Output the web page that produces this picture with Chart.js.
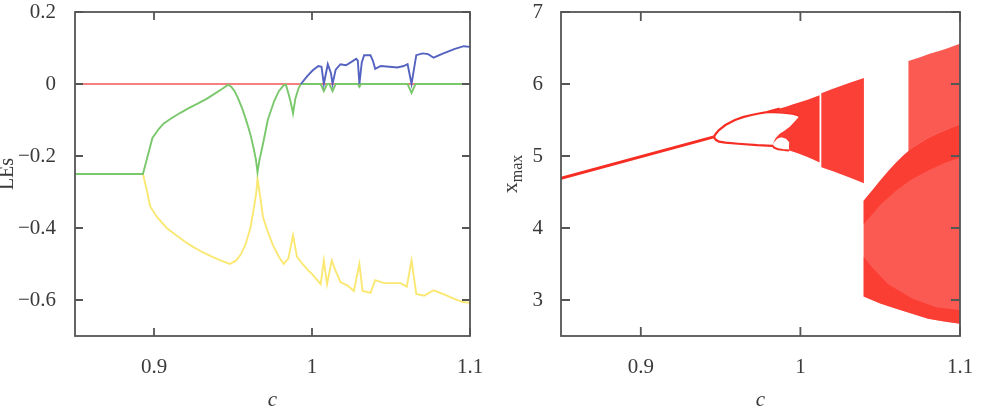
<!DOCTYPE html>
<html>
<head>
<meta charset="utf-8">
<script src="https://cdn.jsdelivr.net/npm/chart.js@4.4.1/dist/chart.umd.min.js"></script>
<style>
  html, body { margin: 0; padding: 0; background: #fff; }
  #wrap { position: relative; width: 986px; height: 411px; overflow: hidden; }
  #leftBox { position: absolute; left: 0; top: 0; width: 490px; height: 411px; }
  #rightBox { position: absolute; left: 490px; top: 0; width: 496px; height: 411px; }
</style>
</head>
<body>
<div id="wrap">
  <div id="leftBox"><canvas id="leChart" width="490" height="411"></canvas></div>
  <div id="rightBox"><canvas id="xmChart" width="496" height="411"></canvas></div>
</div>
<script>
// ---------------- shared axis data ----------------
const cTicks = [0.9, 1, 1.1];
const cTickLabels = ['0.9', '1', '1.1'];

// ---------------- left panel: Lyapunov exponents ----------------
const leTicks = [-0.6, -0.4, -0.2, 0, 0.2];
const leTickLabels = ['\u22120.6', '\u22120.4', '\u22120.2', '0', '0.2'];

// LE1 (blue, largest)
const le1C = [0.993, 0.997, 1.0005, 1.004, 1.006, 1.0075, 1.010, 1.012, 1.013, 1.015, 1.018, 1.0215, 1.0245, 1.028, 1.029, 1.030, 1.0315, 1.033, 1.037, 1.0385, 1.040, 1.0435, 1.049, 1.054, 1.058, 1.0605, 1.063, 1.066, 1.070, 1.0735, 1.077, 1.082, 1.086, 1.090, 1.096, 1.1];
const le1 = [0, 0.022, 0.038, 0.05, 0.048, 0, 0.055, 0.03, 0, 0.04, 0.055, 0.052, 0.06, 0.07, 0.065, 0, 0.06, 0.08, 0.08, 0.065, 0.042, 0.05, 0.048, 0.046, 0.05, 0.055, 0, 0.08, 0.085, 0.083, 0.073, 0.083, 0.09, 0.097, 0.105, 0.103];

// LE2 (red, zero exponent)
const le2C = [0.85, 1.1];
const le2 = [0, 0];

// LE3 (green)
const le3C = [0.85, 0.893, 0.8957, 0.899, 0.903, 0.906, 0.911, 0.9167, 0.922, 0.927, 0.933, 0.938, 0.943, 0.947, 0.949, 0.951, 0.953, 0.956, 0.959, 0.961, 0.963, 0.9645, 0.9655, 0.9668, 0.9688, 0.972, 0.976, 0.979, 0.982, 0.9835, 0.985, 0.9865, 0.988, 0.9895, 0.9915, 0.993, 1.0055, 1.0075, 1.0095, 1.011, 1.013, 1.015, 1.029, 1.030, 1.031, 1.0605, 1.063, 1.0655, 1.1];
const le3 = [-0.25, -0.25, -0.205, -0.15, -0.125, -0.11, -0.095, -0.08, -0.067, -0.056, -0.042, -0.028, -0.014, -0.002, -0.008, -0.02, -0.038, -0.07, -0.11, -0.14, -0.177, -0.21, -0.245, -0.21, -0.17, -0.10, -0.048, -0.02, -0.004, -0.002, -0.025, -0.05, -0.082, -0.04, -0.012, 0, 0, -0.02, 0, 0, -0.02, 0, 0, -0.008, 0, 0, -0.025, 0, 0];

// LE4 (yellow, most negative)
const le4C = [0.85, 0.893, 0.8957, 0.8976, 0.902, 0.908, 0.914, 0.919, 0.925, 0.931, 0.937, 0.942, 0.948, 0.952, 0.955, 0.958, 0.961, 0.963, 0.9648, 0.9655, 0.9668, 0.969, 0.972, 0.975, 0.979, 0.982, 0.985, 0.988, 0.9905, 0.994, 0.997, 1.0005, 1.0055, 1.0075, 1.0095, 1.0125, 1.015, 1.018, 1.0225, 1.0265, 1.030, 1.032, 1.037, 1.040, 1.0457, 1.056, 1.060, 1.063, 1.066, 1.071, 1.077, 1.084, 1.090, 1.095, 1.1];
const le4 = [-0.25, -0.25, -0.30, -0.34, -0.37, -0.40, -0.42, -0.436, -0.453, -0.468, -0.48, -0.49, -0.50, -0.49, -0.473, -0.445, -0.40, -0.35, -0.30, -0.262, -0.30, -0.37, -0.41, -0.445, -0.48, -0.50, -0.485, -0.42, -0.48, -0.50, -0.515, -0.53, -0.556, -0.49, -0.556, -0.49, -0.52, -0.55, -0.56, -0.575, -0.50, -0.575, -0.58, -0.545, -0.553, -0.553, -0.563, -0.49, -0.583, -0.588, -0.573, -0.585, -0.597, -0.605, -0.608];

// ---------------- right panel: bifurcation diagram x_max ----------------
const xmTicks = [3, 4, 5, 6, 7];
const xmTickLabels = ['3', '4', '5', '6', '7'];

// periodic branches (lines)
const period1C = [0.85, 0.9458];
const period1 = [4.69, 5.265];
const branchUpC = [0.9458, 0.947, 0.949, 0.953, 0.959, 0.964, 0.9694, 0.974, 0.979, 0.983, 0.987];
const branchUp = [5.265, 5.31, 5.36, 5.43, 5.50, 5.54, 5.57, 5.59, 5.61, 5.635, 5.66];
const innerTopC = [0.979, 0.983, 0.987, 0.991, 0.995, 0.998, 0.9992];
const innerTop = [5.605, 5.604, 5.601, 5.595, 5.583, 5.566, 5.55];
const branchLoC = [0.9458, 0.947, 0.949, 0.953, 0.961, 0.973, 0.9823];
const branchLo = [5.265, 5.225, 5.20, 5.185, 5.17, 5.15, 5.14];
const smallLoopLoC = [0.9823, 0.9835, 0.986, 0.989, 0.991, 0.993];
const smallLoopLo = [5.15, 5.115, 5.095, 5.085, 5.08, 5.075];

// chaotic bands (outlines of the filled point clouds)
const bandAC = [0.979, 0.983, 0.987, 0.991, 0.995, 1.0, 1.005, 1.012, 1.012, 1.008, 1.004, 1.0, 0.996, 0.993, 0.9928, 0.993, 0.991, 0.988, 0.9855, 0.9835, 0.9823, 0.9845, 0.987, 0.990, 0.9935, 0.996, 0.9985, 0.9992, 0.998, 0.995, 0.991, 0.987, 0.983];
const bandA = [5.61, 5.635, 5.66, 5.685, 5.715, 5.75, 5.785, 5.845, 4.91, 4.95, 4.99, 5.025, 5.055, 5.075, 5.12, 5.19, 5.24, 5.26, 5.24, 5.19, 5.15, 5.25, 5.31, 5.35, 5.41, 5.47, 5.53, 5.55, 5.567, 5.585, 5.597, 5.603, 5.605];
const bandBC = [1.0131, 1.02, 1.03, 1.0398, 1.0398, 1.03, 1.02, 1.0131];
const bandB = [5.87, 5.93, 6.01, 6.085, 4.62, 4.71, 4.79, 4.845];
const regionLowC = [1.0396, 1.045, 1.05, 1.055, 1.06, 1.065, 1.07, 1.075, 1.08, 1.09, 1.1, 1.1, 1.09, 1.08, 1.07, 1.06, 1.05, 1.0396];
const regionLow = [4.38, 4.52, 4.66, 4.79, 4.91, 5.02, 5.11, 5.18, 5.25, 5.35, 5.44, 2.67, 2.70, 2.74, 2.81, 2.88, 2.95, 3.05];
const regionUpC = [1.0677, 1.0677, 1.075, 1.081, 1.09, 1.1, 1.1, 1.09, 1.08, 1.075, 1.07];
const regionUp = [5.06, 6.32, 6.37, 6.42, 6.48, 6.56, 5.44, 5.35, 5.25, 5.18, 5.11];
const denseTopC = [1.0396, 1.05, 1.06, 1.07, 1.08, 1.09, 1.1, 1.1, 1.09, 1.08, 1.07, 1.06, 1.05, 1.0396];
const denseTop = [4.38, 4.66, 4.91, 5.11, 5.25, 5.35, 5.44, 4.98, 4.90, 4.80, 4.68, 4.52, 4.32, 4.05];
const denseBotC = [1.0396, 1.0396, 1.045, 1.055, 1.07, 1.085, 1.1, 1.1, 1.09, 1.08, 1.07, 1.06, 1.05];
const denseBot = [3.05, 3.6, 3.45, 3.22, 3.02, 2.9, 2.86, 2.67, 2.70, 2.74, 2.81, 2.88, 2.95];

// ---------------- helpers & styling ----------------
const pts = (cs, vs) => cs.map((c, i) => ({x: c, y: vs[i]}));
const FONT = "'Liberation Serif', 'DejaVu Serif', serif";
const TEXT = '#3a3a3a';

const framePlugin = {
  id: 'frame',
  afterDatasetsDraw(chart, args, opts) {
    const {ctx, chartArea: a, scales} = chart;
    const x = scales.x, y = scales.y;
    ctx.save();
    ctx.strokeStyle = opts.color || '#555';
    ctx.lineWidth = opts.width || 1.8;
    const L = opts.tickLen || 8;
    ctx.beginPath();
    x.ticks.forEach(t => {
      const p = x.getPixelForValue(t.value);
      ctx.moveTo(p, a.bottom); ctx.lineTo(p, a.bottom - L);
      ctx.moveTo(p, a.top); ctx.lineTo(p, a.top + L);
    });
    y.ticks.forEach(t => {
      const p = y.getPixelForValue(t.value);
      ctx.moveTo(a.left, p); ctx.lineTo(a.left + L, p);
      ctx.moveTo(a.right, p); ctx.lineTo(a.right - L, p);
    });
    ctx.stroke();
    ctx.strokeRect(a.left, a.top, a.right - a.left, a.bottom - a.top);
    ctx.restore();
  }
};

function xScale() {
  return {
    type: 'linear', min: 0.85, max: 1.1,
    grid: {display: false}, border: {display: false},
    afterBuildTicks: s => { s.ticks = cTicks.map(v => ({value: v})); },
    afterFit: s => { s.height = 75; s.paddingLeft = 0; s.paddingRight = 0; },
    ticks: {
      autoSkip: false, maxRotation: 0, padding: 11, color: TEXT,
      font: {family: FONT, size: 21},
      callback: (v, i) => cTickLabels[i]
    },
    title: {display: true, text: 'c', color: TEXT, padding: {top: 0, bottom: 0},
      font: {family: FONT, size: 21, style: 'italic', lineHeight: 1.0}}
  };
}

function line(cs, vs, color, w) {
  return {data: pts(cs, vs), showLine: true, borderColor: color, borderWidth: w,
    pointRadius: 0, fill: false, tension: 0};
}
function area(cs, vs, color) {
  return {data: pts(cs, vs), showLine: true, borderColor: 'rgba(0,0,0,0)', borderWidth: 1,
    backgroundColor: color, pointRadius: 0, fill: 'shape', tension: 0};
}

// ---------------- left chart ----------------
new Chart(document.getElementById('leChart'), {
  type: 'scatter',
  data: {
    datasets: [
      line(le1C, le1, 'rgb(84,98,192)', 1.9),
      line(le3C, le3, 'rgb(122,200,108)', 1.9),
      line(le2C, le2, 'rgb(244,128,128)', 1.9),
      line(le4C, le4, 'rgb(250,232,115)', 1.9)
    ]
  },
  options: {
    responsive: false, animation: false, events: [],
    layout: {padding: {top: 12, right: 20, left: 0, bottom: 0}},
    plugins: {legend: {display: false}, tooltip: {enabled: false},
      frame: {color: '#555', width: 1.8, tickLen: 8}},
    scales: {
      x: xScale(),
      y: {
        type: 'linear', min: -0.7, max: 0.2,
        grid: {display: false}, border: {display: false},
        afterBuildTicks: s => { s.ticks = leTicks.map(v => ({value: v})); },
        afterFit: s => { s.width = 75; s.paddingTop = 0; s.paddingBottom = 0; },
        ticks: {autoSkip: false, padding: 11, color: TEXT, font: {family: FONT, size: 21},
          callback: (v, i) => leTickLabels[i]},
        title: {display: true, text: 'LEs', color: TEXT, padding: {top: 0, bottom: 0},
          font: {family: FONT, size: 20, lineHeight: 0.8}}
      }
    }
  },
  plugins: [framePlugin]
});

// ---------------- right chart ----------------
const RED = 'rgb(245,45,35)';
const xmaxTitle = {
  id: 'xmaxTitle',
  afterDraw(chart) {
    const {ctx, chartArea: a} = chart;
    const cy = (a.top + a.bottom) / 2;
    ctx.save();
    ctx.translate(27, cy);
    ctx.rotate(-Math.PI / 2);
    ctx.fillStyle = TEXT;
    ctx.textBaseline = 'alphabetic';
    ctx.textAlign = 'left';
    ctx.font = '22px ' + FONT;
    const w1 = ctx.measureText('x').width;
    ctx.font = '16px ' + FONT;
    const w2 = ctx.measureText('max').width;
    const start = -(w1 + w2) / 2;
    ctx.font = '22px ' + FONT;
    ctx.fillText('x', start, 0);
    ctx.font = '16px ' + FONT;
    ctx.fillText('max', start + w1, 5);
    ctx.restore();
  }
};

new Chart(document.getElementById('xmChart'), {
  type: 'scatter',
  data: {
    datasets: [
      line(period1C, period1, RED, 3),
      line(branchUpC, branchUp, RED, 2.2),
      line(innerTopC, innerTop, RED, 1.5),
      line(branchLoC, branchLo, RED, 2.2),
      line(smallLoopLoC, smallLoopLo, RED, 2),
      area(bandAC, bandA, 'rgba(250,38,28,0.9)'),
      area(bandBC, bandB, 'rgba(250,38,28,0.88)'),
      area(denseTopC, denseTop, 'rgba(250,38,28,0.55)'),
      area(denseBotC, denseBot, 'rgba(250,38,28,0.55)'),
      area(regionLowC, regionLow, 'rgba(250,38,28,0.76)'),
      area(regionUpC, regionUp, 'rgba(250,38,28,0.76)')
    ]
  },
  options: {
    responsive: false, animation: false, events: [],
    layout: {padding: {top: 12, right: 26, left: 0, bottom: 0}},
    plugins: {legend: {display: false}, tooltip: {enabled: false},
      frame: {color: '#555', width: 1.8, tickLen: 9}},
    scales: {
      x: xScale(),
      y: {
        type: 'linear', min: 2.5, max: 7,
        grid: {display: false}, border: {display: false},
        afterBuildTicks: s => { s.ticks = xmTicks.map(v => ({value: v})); },
        afterFit: s => { s.width = 71; s.paddingTop = 0; s.paddingBottom = 0; },
        ticks: {autoSkip: false, padding: 10, color: TEXT, font: {family: FONT, size: 21},
          callback: (v, i) => xmTickLabels[i]},
        title: {display: false}
      }
    }
  },
  plugins: [framePlugin, xmaxTitle]
});
</script>
</body>
</html>
